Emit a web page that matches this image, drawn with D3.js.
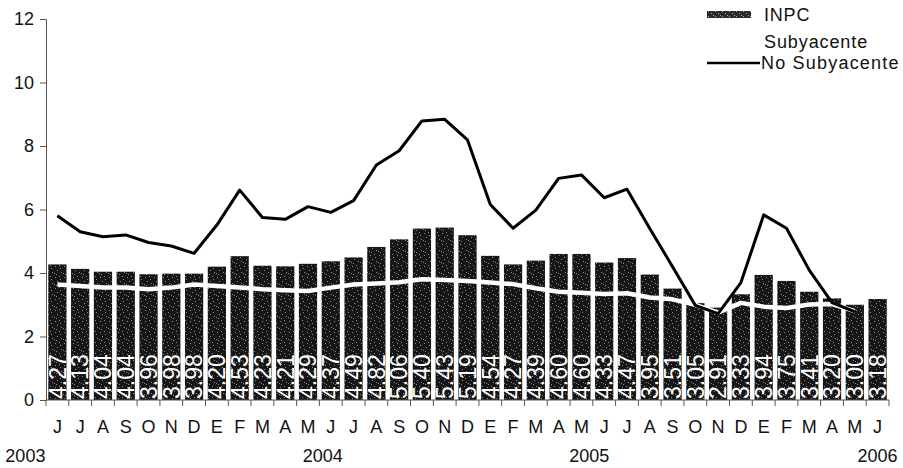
<!DOCTYPE html>
<html><head><meta charset="utf-8">
<script src="https://cdn.jsdelivr.net/npm/d3@7"></script>
<style>
body{margin:0;background:#fff;}
svg{display:block;font-family:"Liberation Sans",Arial,sans-serif;}
</style></head>
<body>
<svg id="c" width="903" height="468"></svg>
<script>
const months = ["J","J","A","S","O","N","D","E","F","M","A","M","J","J","A","S","O","N","D","E","F","M","A","M","J","J","A","S","O","N","D","E","F","M","A","M","J"];
const years = [{label:"2003", idx:0},{label:"2004", idx:12},{label:"2005", idx:24},{label:"2006", idx:36}];
const inpc = [4.27,4.13,4.04,4.04,3.96,3.98,3.98,4.20,4.53,4.23,4.21,4.29,4.37,4.49,4.82,5.06,5.40,5.43,5.19,4.54,4.27,4.39,4.60,4.60,4.33,4.47,3.95,3.51,3.05,2.91,3.33,3.94,3.75,3.41,3.20,3.00,3.18];
const subyacente = [3.64,3.59,3.54,3.54,3.49,3.54,3.64,3.59,3.54,3.49,3.46,3.43,3.54,3.64,3.67,3.71,3.80,3.78,3.75,3.70,3.65,3.52,3.41,3.38,3.34,3.36,3.23,3.17,3.00,2.75,3.06,2.94,2.90,3.01,3.02,2.80];
const noSubyacente = [5.80,5.30,5.14,5.20,4.96,4.85,4.62,5.51,6.61,5.75,5.69,6.09,5.91,6.28,7.40,7.85,8.79,8.84,8.19,6.16,5.41,5.98,6.98,7.09,6.37,6.64,5.40,4.20,2.98,2.72,3.70,5.83,5.41,4.09,3.07,2.78];
const yTicks = [0,2,4,6,8,10,12];

(function(){
const svg = d3.select("#c");
const L = 46, R = 889, T = 19, B = 400;
const x = d3.scaleBand().domain(d3.range(months.length)).range([L, R]).paddingInner(0.2).paddingOuter(0.1);
const xb = d3.scaleBand().domain(d3.range(months.length)).range([L, R]);
const y = d3.scaleLinear().domain([0,12]).range([B, T]);
const cx = i => xb(i) + xb.bandwidth()/2;

// grainy texture pattern for bars
const defs = svg.append("defs");
const pat = defs.append("pattern").attr("id","grain").attr("patternUnits","userSpaceOnUse")
  .attr("width",9).attr("height",11);
pat.append("rect").attr("width",9).attr("height",11).attr("fill","#161616");
[[1,2],[5,1],[3,6],[7,8],[0,9],[6,4],[2,10]].forEach(([a,b])=>{
  pat.append("rect").attr("x",a).attr("y",b).attr("width",1).attr("height",1).attr("fill","#8a8a8a");
});
const pat2 = defs.append("pattern").attr("id","grain2").attr("patternUnits","userSpaceOnUse")
  .attr("width",7).attr("height",5);
pat2.append("rect").attr("width",7).attr("height",5).attr("fill","#2a2a2a");
[[1,1],[4,3],[6,0]].forEach(([a,b])=>{
  pat2.append("rect").attr("x",a).attr("y",b).attr("width",1).attr("height",1).attr("fill","#aaa");
});

svg.append("g").selectAll("rect").data(inpc).join("rect")
  .attr("x",(d,i)=>x(i)).attr("width",x.bandwidth())
  .attr("y",d=>y(d)).attr("height",d=>y(0)-y(d))
  .attr("fill","url(#grain)");

const line = d3.line().x((d,i)=>cx(i)).y(d=>y(d));
svg.append("path").datum(subyacente).attr("d",line)
  .attr("fill","none").attr("stroke","#fff").attr("stroke-width",4.5).attr("stroke-linejoin","round");

svg.append("g").selectAll("text").data(inpc).join("text")
  .attr("transform",(d,i)=>`translate(${cx(i)},${B-1}) rotate(-90)`)
  .attr("dy","0.36em")
  .attr("fill","#fff").attr("font-size",23)
  .text(d=>d.toFixed(2));

svg.append("path").datum(noSubyacente).attr("d",line)
  .attr("fill","none").attr("stroke","#000").attr("stroke-width",3).attr("stroke-linejoin","round");

const ya = svg.append("g").attr("transform",`translate(${L},0)`)
  .call(d3.axisLeft(y).tickValues(yTicks).tickSize(6).tickPadding(6).tickFormat(d3.format("d")));
ya.select(".domain").attr("stroke","#555");
ya.selectAll(".tick line").attr("stroke","#555");
ya.selectAll("text").attr("font-size",18).attr("font-family","Liberation Sans, Arial").attr("fill","#111");

const xa = svg.append("g").attr("transform",`translate(0,${B})`);
xa.append("line").attr("x1",L).attr("x2",R).attr("stroke","#555");
xa.selectAll("line.t").data(d3.range(months.length+1)).join("line").attr("class","t")
  .attr("x1",i=> i<months.length ? xb(i) : R).attr("x2",i=> i<months.length ? xb(i) : R)
  .attr("y1",0).attr("y2",6).attr("stroke","#555");
xa.selectAll("text.m").data(months).join("text").attr("class","m")
  .attr("x",(d,i)=>cx(i)).attr("y",33).attr("text-anchor","middle")
  .attr("font-size",18).attr("fill","#111").text(d=>d);
const yearOffset = {"2003":-32,"2004":-8,"2005":-15,"2006":0};
xa.selectAll("text.y").data(years).join("text").attr("class","y")
  .attr("x",d=>cx(d.idx)+yearOffset[d.label]).attr("y",62).attr("text-anchor","middle")
  .attr("font-size",18).attr("fill","#111").text(d=>d.label);

const lg = svg.append("g");
lg.append("rect").attr("x",707).attr("y",11).attr("width",44).attr("height",7).attr("fill","url(#grain2)");
lg.append("text").attr("x",764).attr("y",15).attr("dy","0.35em").attr("font-size",18).attr("letter-spacing",0.8).attr("fill","#111").text("INPC");
lg.append("line").attr("x1",707).attr("x2",751).attr("y1",42).attr("y2",42).attr("stroke","#fff").attr("stroke-width",3);
lg.append("text").attr("x",764).attr("y",42).attr("dy","0.35em").attr("font-size",18).attr("letter-spacing",0.9).attr("fill","#111").text("Subyacente");
lg.append("line").attr("x1",707).attr("x2",760).attr("y1",63).attr("y2",63).attr("stroke","#000").attr("stroke-width",2.5);
lg.append("text").attr("x",761).attr("y",63).attr("dy","0.35em").attr("font-size",18).attr("letter-spacing",1.2).attr("fill","#111").text("No Subyacente");
})();
</script>
</body></html>
